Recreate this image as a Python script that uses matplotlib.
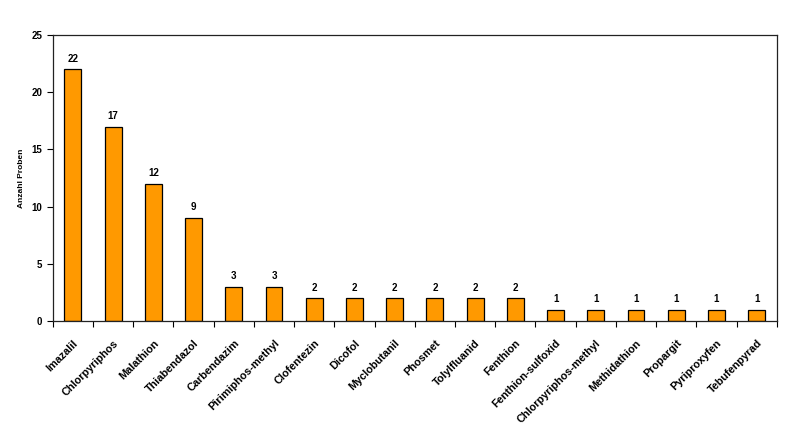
import numpy as np
import matplotlib.pyplot as plt

wirkstoffe = ["Imazalil", "Chlorpyriphos", "Malathion", "Thiabendazol", "Carbendazim",
              "Pirimiphos-methyl", "Clofentezin", "Dicofol", "Myclobutanil", "Phosmet",
              "Tolylfluanid", "Fenthion", "Fenthion-sulfoxid", "Chlorpyriphos-methyl",
              "Methidathion", "Propargit", "Pyriproxyfen", "Tebufenpyrad"]
anzahl = [22, 17, 12, 9, 3, 3, 2, 2, 2, 2, 2, 2, 1, 1, 1, 1, 1, 1]
y_ticks = [0, 5, 10, 15, 20, 25]

plt.rcParams['font.family'] = ['Liberation Sans', 'DejaVu Sans']
plt.rcParams['font.weight'] = 'bold'

fig = plt.figure(figsize=(8, 4.37), dpi=100)
ax = fig.add_axes([0.066, 0.265, 0.905, 0.655])

x = np.arange(len(wirkstoffe))
bars = ax.bar(x, anzahl, width=0.42, color='#FF9900', edgecolor='black', linewidth=0.9)
for xi, v in zip(x, anzahl):
    ax.text(xi, v + 0.5, str(v), ha='center', va='bottom', fontsize=7, fontweight='bold')

ax.set_xlim(-0.5, len(wirkstoffe) - 0.5)
ax.set_ylim(0, 25)
ax.set_yticks(y_ticks)
ax.tick_params(axis='y', labelsize=7, direction='out', length=4, width=0.8)

# labels at bar centres, ticks at category boundaries
ax.set_xticks(x)
ax.set_xticklabels(wirkstoffe, rotation=45, ha='right', rotation_mode='anchor', fontsize=7.8)
ax.tick_params(axis='x', which='major', length=0, pad=12)
ax.set_xticks(np.arange(-0.5, len(wirkstoffe)), minor=True)
ax.tick_params(axis='x', which='minor', direction='out', length=4, width=0.8)

ax.set_ylabel("Anzahl Proben", fontsize=6, fontweight='bold', labelpad=5)
for s in ax.spines.values():
    s.set_linewidth(0.9)
    s.set_color('#222222')

fig.savefig("out.png", dpi=100)
